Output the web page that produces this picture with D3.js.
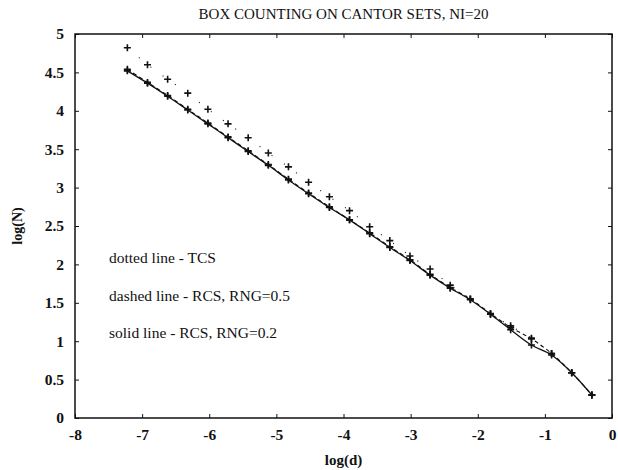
<!DOCTYPE html>
<html>
<head>
<meta charset="utf-8">
<script src="https://cdn.jsdelivr.net/npm/d3@7"></script>
<style>
  body { margin: 0; background: #fff; }
  svg text { font-family: "Liberation Serif", "DejaVu Serif", serif; fill: #111; }
</style>
</head>
<body>
<svg id="chart" width="618" height="470"></svg>
<script>
// log(d) values of the box sizes
const logD = [-7.22, -6.92, -6.62, -6.32, -6.02, -5.72, -5.42, -5.12, -4.82, -4.52, -4.21, -3.91,
              -3.61, -3.31, -3.01, -2.71, -2.41, -2.11, -1.81, -1.51, -1.20, -0.90, -0.60, -0.30];
// dotted line - TCS
const tcs = [4.82, 4.60, 4.41, 4.23, 4.02, 3.83, 3.65, 3.45, 3.27, 3.07, 2.88, 2.70,
             2.49, 2.31, 2.11, 1.94, 1.73, 1.55, 1.35, 1.20, 1.04, 0.84, 0.59, 0.30];
// dashed line - RCS, RNG=0.5
const rcs05 = [4.54, 4.37, 4.20, 4.02, 3.84, 3.66, 3.48, 3.30, 3.11, 2.93, 2.75, 2.58,
               2.41, 2.23, 2.06, 1.87, 1.70, 1.55, 1.36, 1.18, 1.03, 0.84, 0.59, 0.30];
// solid line - RCS, RNG=0.2
const rcs02 = [4.52, 4.36, 4.19, 4.01, 3.83, 3.65, 3.47, 3.29, 3.10, 2.92, 2.74, 2.58,
               2.40, 2.22, 2.05, 1.86, 1.69, 1.54, 1.35, 1.15, 0.95, 0.82, 0.59, 0.30];
const xTicks = [-8, -7, -6, -5, -4, -3, -2, -1, 0];
const yTicks = [0, 0.5, 1, 1.5, 2, 2.5, 3, 3.5, 4, 4.5, 5];
const legendLines = ["dotted line - TCS", "dashed line - RCS, RNG=0.5", "solid line - RCS, RNG=0.2"];

const margin = {top: 34, right: 6, bottom: 52, left: 75},
      width = 618 - margin.left - margin.right,
      height = 470 - margin.top - margin.bottom;

const svg = d3.select("#chart");
const g = svg.append("g")
    .attr("transform", "translate(" + margin.left + "," + margin.top + ")");

const x = d3.scaleLinear().domain([-8, 0]).range([0, width]);
const y = d3.scaleLinear().domain([0, 5]).range([height, 0]);

// plain hyphen for negatives, as in the original print
const fmt = d => String(d);

// axes with ticks pointing inwards on all four sides
g.append("g").attr("class", "x axis")
    .attr("transform", "translate(0," + height + ")")
    .call(d3.axisBottom(x).tickValues(xTicks).tickSizeInner(-4).tickSizeOuter(0).tickPadding(9)
      .tickFormat(fmt));
g.append("g").attr("class", "y axis")
    .call(d3.axisLeft(y).tickValues(yTicks).tickSizeInner(-4).tickSizeOuter(0).tickPadding(11)
      .tickFormat(fmt));
g.append("g")
    .call(d3.axisTop(x).tickValues(xTicks).tickSizeInner(-4).tickSizeOuter(0).tickFormat(""));
g.append("g")
    .attr("transform", "translate(" + width + ",0)")
    .call(d3.axisRight(y).tickValues(yTicks).tickSizeInner(-4).tickSizeOuter(0).tickFormat(""));
g.selectAll(".domain").remove();
g.selectAll(".tick line").attr("stroke", "#111").attr("stroke-width", 1);
g.selectAll(".tick text")
    .style("font-family", "'Liberation Serif', serif")
    .style("font-weight", "bold")
    .style("font-size", "15.5px");
g.selectAll(".x.axis .tick text").attr("dy", "0.85em");

g.append("rect")
    .attr("width", width).attr("height", height)
    .attr("fill", "none").attr("stroke", "#111").attr("stroke-width", 1.5);

const series = [
  {vals: tcs, dash: "1,14", width: 1.1, curve: d3.curveLinear},
  {vals: rcs05, dash: "4,3", width: 1.1, curve: d3.curveCatmullRom},
  {vals: rcs02, dash: null, width: 1.3, curve: d3.curveCatmullRom}
];

series.forEach(s => {
  const pts = logD.map((d, i) => [d, s.vals[i]]);
  const line = d3.line().x(d => x(d[0])).y(d => y(d[1])).curve(s.curve);
  g.append("path")
      .datum(pts)
      .attr("d", line)
      .attr("fill", "none")
      .attr("stroke", "#111")
      .attr("stroke-width", s.width)
      .attr("stroke-dasharray", s.dash);
  g.selectAll(null)
      .data(pts)
      .enter().append("path")
      .attr("transform", d => "translate(" + x(d[0]) + "," + y(d[1]) + ")")
      .attr("d", "M-3.5,0H3.5M0,-3.5V3.5")
      .attr("stroke", "#111")
      .attr("stroke-width", 1.6);
});

// legend text
g.selectAll(".legendText")
    .data(legendLines)
    .enter().append("text")
    .attr("class", "legendText")
    .attr("x", 34)
    .attr("y", (d, i) => 229 + i * 37.5)
    .style("font-size", "15.5px")
    .text(d => d);

// title and axis labels
svg.append("text")
    .attr("x", margin.left + width / 2)
    .attr("y", 19)
    .attr("text-anchor", "middle")
    .style("font-size", "15px")
    .text("BOX COUNTING ON CANTOR SETS, NI=20");
svg.append("text")
    .attr("x", margin.left + width / 2)
    .attr("y", 465)
    .attr("text-anchor", "middle")
    .style("font-size", "15px")
    .style("font-weight", "bold")
    .text("log(d)");
svg.append("text")
    .attr("transform", "translate(22," + (margin.top + height / 2) + ") rotate(-90)")
    .attr("text-anchor", "middle")
    .style("font-size", "14px")
    .style("font-weight", "bold")
    .text("log(N)");
</script>
</body>
</html>
